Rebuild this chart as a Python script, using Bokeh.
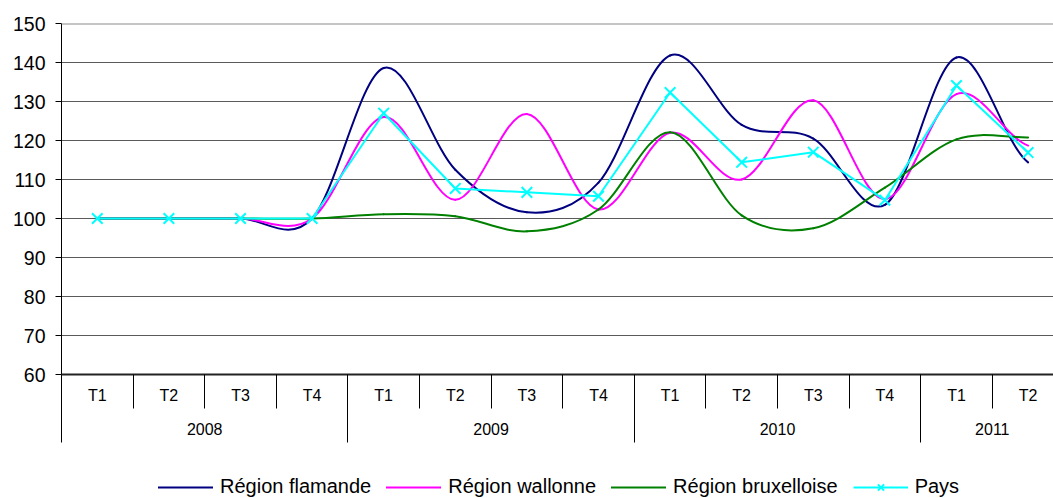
import numpy as np
from bokeh.plotting import figure
from bokeh.layouts import column
from bokeh.models import (ColumnDataSource, Range1d, LinearAxis, FixedTicker,
                          Legend, LegendItem, Span)
from bokeh.embed import file_html
from bokeh.resources import INLINE

# ---------------- data ----------------
years = ["2008", "2009", "2010", "2011"]
quarters_per_year = [4, 4, 4, 2]
quarters = ["T1", "T2", "T3", "T4", "T1", "T2", "T3", "T4",
            "T1", "T2", "T3", "T4", "T1", "T2"]

flamande = [100, 100, 100, 100, 138.6, 112.5, 101.6, 109.2,
            141.8, 124.0, 120.5, 103.5, 141.3, 114.4]
wallonne = [100, 100, 100, 100, 126.0, 104.8, 126.8, 102.3,
            122.0, 110.0, 130.3, 105.0, 131.9, 118.7]
bruxelloise = [100, 100, 100, 100, 101.1, 100.6, 96.7, 102.3,
               122.1, 100.8, 97.5, 107.9, 120.3, 120.8]
pays = [100, 100, 100, 100, 127.0, 107.7, 106.7, 105.7,
        132.3, 114.4, 117.0, 104.7, 134.1, 116.9]

series_names = ["Région flamande", "Région wallonne", "Région bruxelloise", "Pays"]
series_colors = ["#000080", "#FF00FF", "#008000", "#00FFFF"]
y_ticks = list(range(60, 151, 10))

FONT = "Liberation Sans"

n = len(quarters)
xs = np.arange(n, dtype=float)


def smooth_source(vals):
    """Bezier control points (Excel-like smoothed line) from the data points."""
    v = np.asarray(vals, dtype=float)
    prev_v = np.concatenate([[v[0]], v[:-1]])
    next_v = np.concatenate([v[1:], [v[-1]]])
    m = (next_v - prev_v) / 2.0
    return ColumnDataSource(dict(
        x0=xs[:-1], y0=v[:-1], x1=xs[1:], y1=v[1:],
        cx0=xs[:-1] + 1 / 3, cy0=v[:-1] + m[:-1] / 3,
        cx1=xs[1:] - 1 / 3, cy1=v[1:] - m[1:] / 3,
    ))


def draw_series(fig):
    rs = []
    for vals, color in zip([flamande, wallonne, bruxelloise], series_colors[:3]):
        r = fig.bezier(x0="x0", y0="y0", x1="x1", y1="y1", cx0="cx0", cy0="cy0",
                       cx1="cx1", cy1="cy1", source=smooth_source(vals),
                       line_color=color, line_width=2, line_cap="round")
        rs.append([r])
    src_p = ColumnDataSource(dict(x=xs, y=pays))
    rl = fig.line("x", "y", source=src_p, line_color=series_colors[3], line_width=2)
    rm = fig.scatter("x", "y", source=src_p, marker="x", size=15,
                     line_color=series_colors[3], line_width=2)
    rs.append([rl, rm])
    return rs


p = figure(frame_width=992, frame_height=351,
           x_range=Range1d(-0.5, 13.355), y_range=Range1d(y_ticks[0], y_ticks[-1]),
           x_axis_location=None, toolbar_location=None, output_backend="svg",
           min_border_left=61, min_border_top=23, min_border_right=0,
           min_border_bottom=100,
           outline_line_color=None, background_fill_color="white",
           border_fill_color="white")

# y axis
p.yaxis.ticker = FixedTicker(ticks=y_ticks)
p.yaxis.major_tick_in = 0
p.yaxis.major_tick_out = 6
p.yaxis.minor_tick_line_color = None
p.yaxis.axis_line_color = "black"
p.yaxis.major_tick_line_color = "black"
p.yaxis.major_label_standoff = 10
p.yaxis.major_label_text_font = FONT
p.yaxis.major_label_text_font_size = "19.5px"
p.yaxis.major_label_text_color = "black"

p.ygrid.ticker = FixedTicker(ticks=y_ticks)
p.ygrid.grid_line_color = "#5a5a5a"
p.ygrid.grid_line_width = 1
p.xgrid.visible = False

p.add_layout(Span(location=y_ticks[-1], dimension="width",
                  line_color="#8c8c8c", line_width=2))

# quarter axis (labels at category centres, separators as minor ticks)
bounds = np.arange(-0.5, n, 1.0)
q_axis = LinearAxis(
    ticker=FixedTicker(ticks=list(xs), minor_ticks=list(bounds)),
    major_label_overrides={float(x): q for x, q in zip(xs, quarters)},
    major_tick_out=0, major_tick_in=0,
    minor_tick_out=34, minor_tick_in=0,
    minor_tick_line_color="black", minor_tick_line_width=1,
    axis_line_color="#222222", axis_line_width=2,
    major_label_standoff=-22,
    major_label_text_font=FONT, major_label_text_font_size="16px",
    major_label_text_color="black",
)
p.add_layout(q_axis, "below")

# year axis
ends = np.cumsum(quarters_per_year)
starts = ends - np.array(quarters_per_year)
year_bounds = list(np.concatenate([[-0.5], ends - 0.5]))
year_centers = list((starts + ends - 1) / 2.0)
y_axis2 = LinearAxis(
    ticker=FixedTicker(ticks=year_centers, minor_ticks=year_bounds),
    major_label_overrides={float(c): y for c, y in zip(year_centers, years)},
    major_tick_out=0, major_tick_in=0,
    minor_tick_out=36, minor_tick_in=0,
    minor_tick_line_color="black", minor_tick_line_width=1,
    axis_line_color=None,
    major_label_standoff=-20,
    major_label_text_font=FONT, major_label_text_font_size="16px",
    major_label_text_color="black",
)
p.add_layout(y_axis2, "below")

draw_series(p)

# legend strip: a second figure whose frame holds the legend
# (its series lie outside its y range, so only the legend shows)
lp = figure(frame_width=1053, frame_height=24,
            x_range=Range1d(-0.5, 13.355), y_range=Range1d(0, 1),
            x_axis_location=None, y_axis_location=None,
            toolbar_location=None, output_backend="svg",
            min_border_left=0, min_border_right=0, min_border_top=0, min_border_bottom=0,
            outline_line_color=None, background_fill_color="white",
            border_fill_color="white")
lp.xgrid.visible = False
lp.ygrid.visible = False
legend_renderers = draw_series(lp)

legend = Legend(
    items=[LegendItem(label=nm, renderers=rs) for nm, rs in zip(series_names, legend_renderers)],
    orientation="horizontal", location=(158, 0),
    glyph_width=55, glyph_height=22, label_height=22,
    label_standoff=7, spacing=15, padding=0, margin=0,
    border_line_color=None, background_fill_alpha=0,
    label_text_font=FONT, label_text_font_size="20px", label_text_color="black",
)
lp.add_layout(legend, "center")

layout = column(p, lp, spacing=0)
open("out.html", "w").write(file_html(layout, INLINE))
